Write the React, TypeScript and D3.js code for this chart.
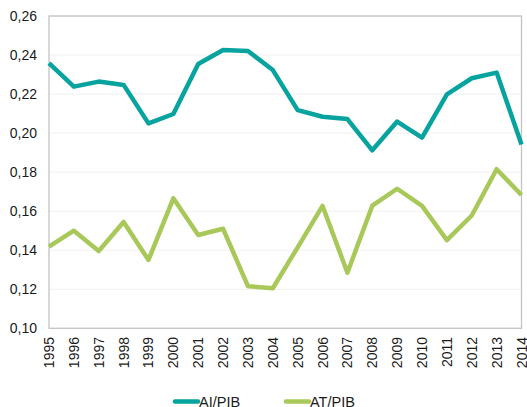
import React from "react";
import * as d3 from "d3";

const years = [1995, 1996, 1997, 1998, 1999, 2000, 2001, 2002, 2003, 2004, 2005, 2006, 2007, 2008, 2009, 2010, 2011, 2012, 2013, 2014];
const aiPib = [0.2358, 0.2238, 0.2264, 0.2247, 0.2050, 0.2098, 0.2354, 0.2426, 0.2421, 0.2323, 0.2118, 0.2084, 0.2072, 0.1912, 0.2059, 0.1977, 0.2199, 0.2281, 0.2310, 0.1942];
const atPib = [0.1418, 0.1500, 0.1396, 0.1545, 0.1350, 0.1666, 0.1478, 0.1510, 0.1216, 0.1205, 0.1415, 0.1627, 0.1285, 0.1628, 0.1715, 0.1627, 0.1452, 0.1578, 0.1815, 0.1683];
const yTicks = [0.10, 0.12, 0.14, 0.16, 0.18, 0.20, 0.22, 0.24, 0.26];
const seriesNames = ["AI/PIB", "AT/PIB"];
const colors = ["#07a39f", "#a9c85a"];

export default function App() {
  const W = 527, H = 407;
  const left = 49, right = 521.5, top = 16, bottom = 328.3;
  const x = d3.scaleLinear().domain([1995, 2014]).range([left, right]);
  const y = d3.scaleLinear().domain([0.10, 0.26]).range([bottom, top]);
  const line = d3.line<number>().x((_, i) => x(years[i])).y((d) => y(d));
  const fmt = (v: number) => v.toFixed(2).replace(".", ",");
  const font = "'Liberation Sans', Arial, sans-serif";
  return (
    <svg width={W} height={H} style={{ position: "absolute", left: 0, top: 0, background: "#fff" }} fontFamily={font}>
      {yTicks.map((t) => (
        <line key={"g" + t} x1={left} x2={right} y1={y(t)} y2={y(t)} stroke="#f0f0f0" strokeWidth={1} />
      ))}
      <rect x={left} y={top} width={right - left} height={bottom - top} fill="none" stroke="#c4c4c4" strokeWidth={1.3} />
      {yTicks.map((t) => (
        <text key={"t" + t} x={37} y={y(t)} dy="0.35em" textAnchor="end" fontSize={14} fill="#1a1a1a">{fmt(t)}</text>
      ))}
      {years.map((yr) => (
        <text key={"x" + yr} transform={`translate(${x(yr) + 5},337) rotate(-90)`} textAnchor="end" fontSize={14} fill="#1a1a1a">{yr}</text>
      ))}
      {[aiPib, atPib].map((s, i) => (
        <path key={"s" + i} d={line(s) || ""} fill="none" stroke={colors[i]} strokeWidth={4.5} strokeLinejoin="round" strokeLinecap="butt" />
      ))}
      {seriesNames.map((n, i) => {
        const lx = i === 0 ? 175 : 286;
        return (
          <g key={"l" + n}>
            <line x1={lx} x2={lx + 23} y1={401.5} y2={401.5} stroke={colors[i]} strokeWidth={4.5} strokeLinecap="round" />
            <text x={lx + 24} y={401.5} dy="0.35em" fontSize={14.5} fill="#1a1a1a">{n}</text>
          </g>
        );
      })}
    </svg>
  );
}
